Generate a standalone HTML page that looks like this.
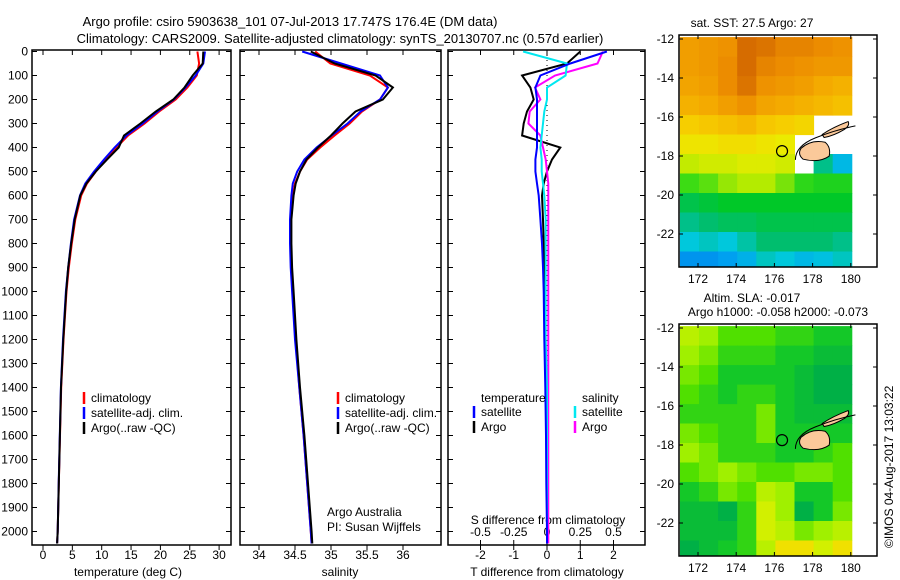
<!DOCTYPE html>
<html><head><meta charset="utf-8">
<style>
body{margin:0;background:#fff;}
svg{display:block;font-family:"Liberation Sans",sans-serif;}
text{font-size:12px;fill:#000;}
</style></head>
<body>
<svg id="fig" width="900" height="580" viewBox="0 0 900 580" xmlns="http://www.w3.org/2000/svg">
<text x="290" y="26" style="font-size:13px" text-anchor="middle">Argo profile: csiro 5903638_101 07-Jul-2013 17.747S 176.4E (DM data)</text>
<text x="340" y="43" style="font-size:13px" text-anchor="middle">Climatology: CARS2009. Satellite-adjusted climatology: synTS_20130707.nc (0.57d earlier)</text>
<g id="p1"></g>
<g id="p2"></g>
<g id="p3"></g>
<g id="m1"></g>
<g id="m2"></g>
<text transform="translate(893,548) rotate(-90)">©IMOS 04-Aug-2017 13:03:22</text>
</svg>
<script>
const depths=[0,50,100,150,200,250,300,350,400,450,500,550,600,700,800,900,1000,1200,1400,1600,1800,2000,2050];
const tempClim=[26.3,26.6,26.2,24.6,22.6,19.8,17.3,14.5,12.5,10.7,9.0,7.5,6.5,5.5,4.9,4.4,4.0,3.5,3.1,2.9,2.7,2.5,2.4];
const tempSat=[27.6,27.3,26.0,24.3,22.3,19.5,17.0,14.2,12.2,10.4,8.7,7.2,6.3,5.3,4.75,4.3,3.9,3.4,3.05,2.87,2.68,2.5,2.4];
const tempArgo=[27.3,27.2,25.5,24.1,22.2,19.2,16.6,13.8,12.9,10.9,9.0,7.4,6.35,5.4,4.8,4.3,3.95,3.45,3.07,2.88,2.7,2.5,2.4];
const salClim=[34.78,34.99,35.54,35.79,35.68,35.43,35.26,35.05,34.85,34.67,34.57,34.50,34.47,34.44,34.44,34.45,34.47,34.51,34.56,34.62,34.67,34.72,34.73];
const salSat=[34.6,35.14,35.68,35.79,35.68,35.41,35.23,35.01,34.80,34.63,34.53,34.47,34.45,34.43,34.43,34.44,34.46,34.5,34.56,34.62,34.67,34.72,34.73];
const salArgo=[34.72,35.05,35.62,35.86,35.72,35.34,35.16,35.0,34.82,34.66,34.57,34.51,34.48,34.45,34.45,34.46,34.48,34.52,34.57,34.63,34.68,34.73,34.74];
const dTSat=[1.8,0.7,-0.2,-0.35,-0.3,-0.3,-0.3,-0.3,-0.3,-0.35,-0.35,-0.3,-0.25,-0.2,-0.15,-0.12,-0.1,-0.08,-0.05,-0.03,-0.02,0,0];
const dTArgo=[1.0,0.6,-0.75,-0.5,-0.4,-0.6,-0.7,-0.75,0.4,0.15,0,-0.1,-0.15,-0.12,-0.1,-0.08,-0.05,-0.05,-0.03,-0.02,0,0,0];
const dSSat=[-0.18,0.15,0.14,0,0,-0.02,-0.03,-0.04,-0.05,-0.04,-0.04,-0.03,-0.02,-0.01,-0.01,-0.01,-0.01,-0.01,0,0,0,0,0];
const dSArgo=[0.42,0.38,0.06,-0.09,-0.05,-0.13,-0.14,-0.05,-0.03,-0.01,0,0.01,0.01,0.01,0.01,0.01,0.01,0.01,0.01,0.01,0.01,0.01,0.01];
const depthTicks=[0,100,200,300,400,500,600,700,800,900,1000,1100,1200,1300,1400,1500,1600,1700,1800,1900,2000];
const tempTicks=[0,5,10,15,20,25,30];
const salTicks=[34,34.5,35,35.5,36];
const dTTicks=[-2,-1,0,1,2];
const dSTicks=["-0.5","-0.25","0","0.25","0.5"];
const sstLats=[-12,-13,-14,-15,-16,-17,-18,-19,-20,-21,-22,-23];
const mapLons=[171,172,173,174,175,176,177,178,179];
const sstGrid=[
[28.6,28.7,28.8,29.3,29.2,29.0,29.0,28.9,28.8],
[28.6,28.7,28.9,29.3,29.0,28.9,28.8,28.7,28.7],
[28.5,28.6,28.9,29.2,28.8,28.7,28.6,28.4,28.3],
[28.3,28.4,28.6,28.8,28.5,28.4,28.3,28.2,28.1],
[27.9,28.0,28.1,28.2,28.0,27.9,27.8,null,null],
[27.6,27.6,27.7,27.7,27.6,27.5,null,null,null],
[27.2,27.3,27.3,27.4,27.4,27.3,null,25.8,25.3],
[26.7,26.8,27.0,27.1,27.1,26.9,26.6,26.5,26.5],
[26.1,26.2,26.3,26.3,26.3,26.3,26.3,26.3,26.3],
[25.8,25.9,26.0,26.0,26.1,26.1,26.1,26.1,26.1],
[25.5,25.6,25.5,25.7,25.9,25.9,25.9,25.9,25.8],
[24.9,24.9,25.0,25.2,25.6,25.5,25.3,25.4,25.6]];
const slaGrid=[
[0.03,0.02,0,0,0,-0.01,-0.01,-0.02,-0.02],
[0.02,0.01,-0.01,-0.01,-0.01,-0.02,-0.02,-0.03,-0.03],
[0.01,0,-0.02,-0.02,-0.02,-0.02,-0.03,-0.04,-0.04],
[0,-0.01,-0.02,-0.01,-0.01,-0.02,-0.03,-0.04,-0.04],
[-0.01,-0.01,-0.01,-0.01,0.01,-0.02,-0.03,-0.03,-0.03],
[0.01,0,-0.01,-0.01,0.01,-0.02,-0.02,-0.02,-0.02],
[0.02,0.01,-0.01,-0.01,-0.01,-0.02,-0.02,-0.01,0],
[0,0.01,0.02,0.01,0,0,0.01,0.01,0],
[-0.02,-0.01,0.01,0,0.03,0.02,-0.02,-0.02,0],
[-0.03,-0.03,-0.04,-0.01,0.04,0.02,-0.04,-0.02,0.01],
[-0.03,-0.03,-0.03,-0.01,0.04,0.03,0.01,0.02,0.03],
[-0.04,-0.03,-0.02,-0.01,0.03,0.05,0.05,0.04,0.05]];
const mapLatTicks=[-12,-14,-16,-18,-20,-22];
const mapLonTicks=[172,174,176,178,180];
const argoPos=[176.4,-17.75];

const NS='http://www.w3.org/2000/svg';
function mk(parent,tag,attrs,txt){const e=document.createElementNS(NS,tag);for(const k in attrs)e.setAttribute(k,attrs[k]);if(txt!==undefined)e.textContent=txt;parent.appendChild(e);return e;}
const yD=d=>51.5+0.24*d;
const TOP=50,BOT=545;

function frame(g,x0,x1){
  const r=mk(g,'rect',{x:x0,y:TOP,width:x1-x0,height:BOT-TOP,fill:'none',stroke:'#000','stroke-width':1.5});
  
  
  depthTicks.forEach(d=>{
    mk(g,'line',{x1:x0,x2:x0+5,y1:yD(d),y2:yD(d),stroke:'#000'});
    mk(g,'line',{x1:x1,x2:x1-5,y1:yD(d),y2:yD(d),stroke:'#000'});
  });
}
function profile(g,xs,xf,color,name,w){
  const pts=xs.map((v,i)=>xf(v).toFixed(1)+','+yD(depths[i]).toFixed(1)).join(' ');
  const p=mk(g,'polyline',{points:pts,fill:'none',stroke:color,'stroke-width':w||2});
  
  
}
function legend(g,x,y,items){
  items.forEach((it,i)=>{
    mk(g,'line',{x1:x,x2:x,y1:y+i*15-10,y2:y+i*15+2,stroke:it[0],'stroke-width':2.5});
    const t=mk(g,'text',{x:x+7,y:y+i*15},it[1]);
    
    
  });
}
// Panel 1
const p1=document.getElementById('p1');
const xT=t=>43+5.87*t;
frame(p1,32,231);
depthTicks.forEach(d=>{const t=mk(p1,'text',{x:28,y:yD(d)+4,'text-anchor':'end'},d);});
tempTicks.forEach(v=>{mk(p1,'line',{x1:xT(v),x2:xT(v),y1:BOT,y2:BOT+5,stroke:'#000'});mk(p1,'line',{x1:xT(v),x2:xT(v),y1:TOP,y2:TOP+5,stroke:'#000'});const t=mk(p1,'text',{x:xT(v),y:559,'text-anchor':'middle'},v);});
mk(p1,'text',{x:128,y:576,'text-anchor':'middle',},'temperature (deg C)');
profile(p1,tempClim,xT,'#ff0000','temperature-climatology-line');
profile(p1,tempSat,xT,'#0000ff','temperature-satellite-line');
profile(p1,tempArgo,xT,'#000000','temperature-argo-line');
legend(p1,84,402,[['#f00','climatology'],['#00f','satellite-adj. clim.'],['#000','Argo(..raw -QC)']]);
// Panel 2
const p2=document.getElementById('p2');
const xS=s=>259+72*(s-34);
frame(p2,240,441);
salTicks.forEach(v=>{mk(p2,'line',{x1:xS(v),x2:xS(v),y1:BOT,y2:BOT+5,stroke:'#000'});mk(p2,'line',{x1:xS(v),x2:xS(v),y1:TOP,y2:TOP+5,stroke:'#000'});const t=mk(p2,'text',{x:xS(v),y:559,'text-anchor':'middle'},v);});
mk(p2,'text',{x:340,y:576,'text-anchor':'middle',},'salinity');
profile(p2,salClim,xS,'#ff0000','salinity-climatology-line');
profile(p2,salSat,xS,'#0000ff','salinity-satellite-line');
profile(p2,salArgo,xS,'#000000','salinity-argo-line');
legend(p2,338,402,[['#f00','climatology'],['#00f','satellite-adj. clim.'],['#000','Argo(..raw -QC)']]);
mk(p2,'text',{x:327,y:516,},'Argo Australia');
mk(p2,'text',{x:327,y:531,},'PI: Susan Wijffels');
// Panel 3
const p3=document.getElementById('p3');
const xdT=t=>547+33.25*t, xdS=s=>547+133*s;
frame(p3,448,645);
mk(p3,'line',{x1:547,x2:547,y1:TOP,y2:BOT,stroke:'#000','stroke-dasharray':'1,4'});
dTTicks.forEach(v=>{mk(p3,'line',{x1:xdT(v),x2:xdT(v),y1:BOT,y2:BOT+5,stroke:'#000'});mk(p3,'line',{x1:xdT(v),x2:xdT(v),y1:TOP,y2:TOP+5,stroke:'#000'});const t=mk(p3,'text',{x:xdT(v),y:559,'text-anchor':'middle'},v);});
dSTicks.forEach(v=>{const x=xdS(parseFloat(v));mk(p3,'line',{x1:x,x2:x,y1:BOT,y2:BOT-5,stroke:'#000'});const t=mk(p3,'text',{x:x,y:536,'text-anchor':'middle'},v);});
mk(p3,'text',{x:548,y:524,'text-anchor':'middle',},'S difference from climatology');
mk(p3,'text',{x:547,y:576,'text-anchor':'middle',},'T difference from climatology');
profile(p3,dTArgo,xdT,'#000000','t-diff-argo-line',2);
profile(p3,dSArgo,xdS,'#ff00ff','s-diff-argo-line',2);
profile(p3,dSSat,xdS,'#00e8f0','s-diff-satellite-line',2);
profile(p3,dTSat,xdT,'#0000ff','t-diff-satellite-line',2);
mk(p3,'text',{x:481,y:402},'temperature');
mk(p3,'text',{x:582,y:402},'salinity');
legend(p3,474,416,[['#00f','satellite'],['#000','Argo']]);
legend(p3,575,416,[['#00e8f0','satellite'],['#f0f','Argo']]);
// Maps
function sstColor(v){
  const st=[[24.5,[0,100,230]],[25.0,[0,160,240]],[25.5,[0,200,220]],[25.9,[0,190,110]],[26.3,[0,200,40]],[26.7,[60,220,20]],[27.1,[180,235,0]],[27.5,[235,235,0]],[27.9,[246,206,0]],[28.4,[244,170,0]],[28.9,[236,140,0]],[29.4,[208,100,0]]];
  return interp(st,v);
}
function slaColor(v){
  const st=[[-0.04,[0,176,70]],[-0.02,[20,200,40]],[0,[80,224,0]],[0.02,[160,240,0]],[0.04,[210,240,0]],[0.05,[240,224,0]]];
  return interp(st,v);
}
function interp(st,v){
  if(v<=st[0][0])return 'rgb('+st[0][1]+')';
  for(let i=1;i<st.length;i++){if(v<=st[i][0]){const f=(v-st[i-1][0])/(st[i][0]-st[i-1][0]);const c=st[i-1][1].map((a,k)=>Math.round(a+f*(st[i][1][k]-a)));return 'rgb('+c+')';}}
  return 'rgb('+st[st.length-1][1]+')';
}
function drawMap(id,fy,grid,colorFn,title){
  const g=document.getElementById(id);
  const lx=lon=>698+19.1*(lon-172), ly=lat=>fy+4+19.5*(-12-lat);
  const x0=679,x1=877,y0=fy,y1=fy+232;
  const cp=mk(g,'clipPath',{id:'cp'+id});mk(cp,'rect',{x:x0,y:y0,width:x1-x0,height:y1-y0});
  const cells=mk(g,'g',{'clip-path':'url(#cp'+id+')'});
  grid.forEach((row,r)=>row.forEach((v,c)=>{
    if(v===null)return;
    const lat=sstLats[r],lon=mapLons[c];
    const rc=mk(cells,'rect',{x:lx(lon+0.05).toFixed(1),y:ly(lat+0.1).toFixed(1),width:19.6,height:20,fill:colorFn(v)});
    
    
  }));
  mk(g,'path',{d:`M${lx(177.4)},${ly(-17.6)} q10,-9 24,-6 q6,5 4,14 q-10,7 -26,3 q-6,-5 -2,-11z`,fill:'#fbc99a',stroke:'#000','stroke-width':1,});
  mk(g,'path',{d:`M${lx(178.5)},${ly(-16.9)} q10,-7 26,-13 q2,4 -4,8 q-10,6 -20,8z`,fill:'#fbc99a',stroke:'#000','stroke-width':1,});
  mk(g,'path',{d:`M${lx(177.1)},${ly(-18.2)} q0,-14 20,-22 q20,-8 40,-12`,fill:'none',stroke:'#000','stroke-width':1,});
  const a=mk(g,'circle',{cx:lx(argoPos[0]),cy:ly(argoPos[1]),r:5.5,fill:'none',stroke:'#000','stroke-width':1.2});
  
  
  mk(g,'rect',{x:x0,y:y0,width:x1-x0,height:y1-y0,fill:'none',stroke:'#000','stroke-width':1.5,});
  mapLatTicks.forEach(l=>{mk(g,'line',{x1:x0,x2:x0+4,y1:ly(l),y2:ly(l),stroke:'#000'});mk(g,'line',{x1:x1,x2:x1-4,y1:ly(l),y2:ly(l),stroke:'#000'});const t=mk(g,'text',{x:674,y:ly(l)+4,'text-anchor':'end'},l);});
  mapLonTicks.forEach(l=>{mk(g,'line',{x1:lx(l),x2:lx(l),y1:y1,y2:y1-4,stroke:'#000'});mk(g,'line',{x1:lx(l),x2:lx(l),y1:y0,y2:y0+4,stroke:'#000'});const t=mk(g,'text',{x:lx(l),y:y1+16,'text-anchor':'middle'},l);});
  title.forEach((s,i)=>{const t=mk(g,'text',{x:i==0&&title.length>1?752:778-(title.length>1?0:26),y:fy-8-(title.length-1-i)*14,'text-anchor':'middle'},s);});
}
drawMap('m1',35,sstGrid,sstColor,['sat. SST: 27.5 Argo: 27']);
drawMap('m2',324,slaGrid,slaColor,['Altim. SLA: -0.017','Argo h1000: -0.058 h2000: -0.073']);
</script>
</body></html>
